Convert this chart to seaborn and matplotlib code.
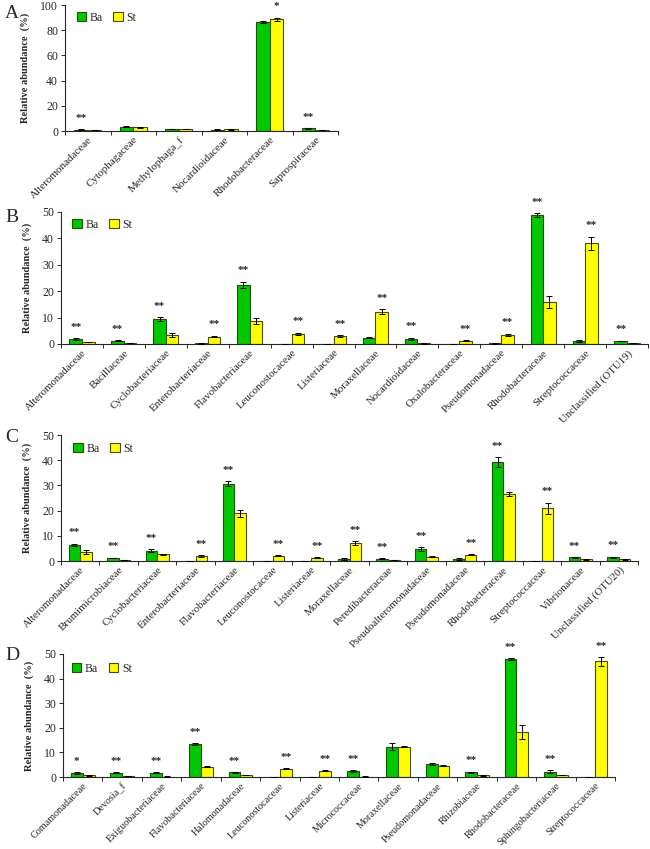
import matplotlib
matplotlib.use("Agg")
import matplotlib.pyplot as plt
from matplotlib.patches import Patch
import seaborn as sns
import pandas as pd
import numpy as np

# ---------------- data ----------------
cats_A = ["Alteromonadaceae", "Cytophagaceae", "Methylophaga_f", "Nocardioidaceae",
          "Rhodobacteraceae", "Saprospiraceae"]
ba_A = [1.0, 3.5, 1.5, 1.0, 86.5, 2.0]
st_A = [0.5, 3.0, 1.5, 1.3, 88.7, 0.5]
ba_err_A = [0.2, 0.3, 0.2, 0.2, 1.0, 0.3]
st_err_A = [0.1, 0.3, 0.2, 0.3, 1.2, 0.1]
sig_A = ["**", "", "", "", "*", "**"]

cats_B = ["Alteromonadaceae", "Bacillaceae", "Cyclobacteriaceae", "Enterobacteriaceae",
          "Flavobacteriaceae", "Leuconostocaceae", "Listeriaceae", "Moraxellaceae",
          "Nocardioidaceae", "Oxalobacteraceae", "Pseudomonadaceae", "Rhodobacteraceae",
          "Streptococcaceae", "Unclassified (OTU19)"]
ba_B = [1.9, 1.25, 9.5, 0.2, 22.4, 0.1, 0.1, 2.4, 2.0, 0.1, 0.2, 48.8, 1.2, 1.1]
st_B = [0.7, 0.3, 3.5, 2.8, 8.8, 3.8, 3.0, 12.3, 0.2, 1.2, 3.5, 15.8, 38.1, 0.3]
ba_err_B = [0.2, 0.15, 0.6, 0.05, 1.1, 0.05, 0.05, 0.3, 0.3, 0.05, 0.05, 0.7, 0.3, 0.15]
st_err_B = [0.1, 0.05, 0.7, 0.3, 1.2, 0.4, 0.3, 0.8, 0.05, 0.15, 0.4, 2.2, 2.5, 0.05]
sig_B = ["**"] * 14

cats_C = ["Alteromonadaceae", "Brumimicrobiaceae", "Cyclobacteriaceae", "Enterobacteriaceae",
          "Flavobacteriaceae", "Leuconostocaceae", "Listeriaceae", "Moraxellaceae",
          "Peredibacteraceae", "Pseudoalteromonadaceae", "Pseudomonadaceae",
          "Rhodobacteraceae", "Streptococcaceae", "Vibrionaceae", "Unclassified (OTU20)"]
ba_C = [6.5, 1.2, 4.1, 0.1, 30.7, 0.1, 0.0, 0.8, 0.9, 4.6, 0.9, 39.3, 0.1, 1.4, 1.4]
st_C = [3.6, 0.4, 2.7, 2.0, 18.9, 2.0, 1.3, 7.1, 0.3, 1.7, 2.4, 26.7, 21.0, 0.6, 0.6]
ba_err_C = [0.4, 0.1, 0.5, 0.05, 1.0, 0.05, 0.0, 0.5, 0.2, 0.8, 0.4, 2.0, 0.05, 0.2, 0.3]
st_err_C = [0.7, 0.05, 0.2, 0.4, 1.5, 0.2, 0.1, 0.8, 0.05, 0.3, 0.2, 0.8, 2.2, 0.1, 0.1]
sig_C = ["**"] * 15

cats_D = ["Comamonadaceae", "Devosia_f", "Exiguobacteriaceae", "Flavobacteriaceae",
          "Halomonadaceae", "Leuconostocaceae", "Listeriaceae", "Micrococcaceae",
          "Moraxellaceae", "Pseudomonadaceae", "Rhizobiaceae", "Rhodobacteraceae",
          "Sphingobacteriaceae", "Streptococcaceae"]
ba_D = [1.6, 1.7, 1.7, 13.5, 1.9, 0.1, 0.0, 2.5, 12.3, 5.3, 1.9, 48.0, 2.2, 0.1]
st_D = [0.7, 0.4, 0.2, 4.2, 0.8, 3.3, 2.5, 0.2, 12.3, 4.6, 0.7, 18.3, 0.9, 47.0]
ba_err_D = [0.5, 0.2, 0.15, 0.3, 0.15, 0.05, 0.0, 0.4, 1.4, 0.4, 0.3, 0.5, 0.5, 0.05]
st_err_D = [0.1, 0.05, 0.05, 0.3, 0.1, 0.2, 0.2, 0.05, 0.3, 0.3, 0.1, 2.7, 0.1, 1.7]
sig_D = ["*", "**", "**", "**", "**", "**", "**", "**", "", "", "**", "**", "**", "**"]

groups = ["Ba", "St"]
colors = {"Ba": "#00C800", "St": "#FFFF00"}
edges = {"Ba": "#1f4f00", "St": "#4a4a10"}

# ---------------- style ----------------
sns.set_style("ticks")
plt.rcParams["font.family"] = ["Liberation Serif", "DejaVu Serif"]
plt.rcParams["axes.linewidth"] = 0.8

W, H = 650, 849
fig = plt.figure(figsize=(W / 100, H / 100), dpi=100)


def px_axes(l, r, t, b):
    return fig.add_axes([l / W, 1 - b / H, (r - l) / W, (b - t) / H])


panels = [
    ("A", cats_A, ba_A, st_A, ba_err_A, st_err_A, sig_A, 100, 20, (65, 338, 5, 131), (5, 14), (82, 20), 8),
    ("B", cats_B, ba_B, st_B, ba_err_B, st_err_B, sig_B, 50, 10, (61, 648, 212, 344), (5, 218), (84, 227), 7.8),
    ("C", cats_C, ba_C, st_C, ba_err_C, st_err_C, sig_C, 50, 10, (61, 638, 435, 561), (5, 437), (85, 451), 7.8),
    ("D", cats_D, ba_D, st_D, ba_err_D, st_err_D, sig_D, 50, 10, (63, 615, 654, 777), (5, 655), (83, 671), 7.3),
]

for (letter, cats, ba, st, ba_err, st_err, sig, ymax, ystep, box, lpos, legpos, xfs) in panels:
    ax = px_axes(*box)
    df = pd.DataFrame({
        "family": cats * 2,
        "group": ["Ba"] * len(cats) + ["St"] * len(cats),
        "value": list(ba) + list(st),
    })
    sns.barplot(data=df, x="family", y="value", hue="group", order=cats,
                hue_order=groups, palette=colors, width=0.6, errorbar=None,
                ax=ax, legend=False, linewidth=0.8, saturation=1)
    errs = {"Ba": ba_err, "St": st_err}
    vals = {"Ba": ba, "St": st}
    tops = {}
    for g, cont in zip(groups, ax.containers):
        xs = []
        for p in cont.patches:
            p.set_edgecolor(edges[g])
            xs.append(p.get_x() + p.get_width() / 2)
        xs = np.array(xs)
        tops[g] = xs
        ax.errorbar(xs, vals[g], yerr=errs[g], fmt="none", ecolor="black",
                    elinewidth=0.7, capsize=2.2, capthick=0.7, zorder=5)
    # significance marks above the taller bar
    for i, s in enumerate(sig):
        if not s:
            continue
        hb = ba[i] + ba_err[i]
        hs = st[i] + st_err[i]
        if hb >= hs:
            x, h = tops["Ba"][i], hb
        else:
            x, h = tops["St"][i], hs
        ax.text(x, h + ymax * 0.05, s, ha="center", va="bottom", fontsize=8,
                fontweight="bold")
    ax.set_ylim(0, ymax)
    ax.set_xlim(-0.5, len(cats) - 0.5)
    ax.set_yticks(np.arange(0, ymax + 1, ystep))
    ax.set_xticks(range(len(cats)))
    ax.set_xticks(np.arange(-0.5, len(cats), 1.0), minor=True)
    ax.set_xticklabels(cats, rotation=45, ha="right", rotation_mode="anchor", fontsize=xfs)
    ax.tick_params(axis="x", which="major", length=0, pad=3)
    ax.tick_params(axis="x", which="minor", length=3, width=0.7, direction="out")
    ax.tick_params(axis="y", labelsize=8.5, length=3, width=0.7, pad=2)
    ax.set_xlabel("")
    ax.set_ylabel("Relative abundance  (%)", fontsize=7.5, fontweight="bold", labelpad=7)
    sns.despine(ax=ax)
    handles = [Patch(facecolor=colors[g], edgecolor=edges[g], linewidth=0.8) for g in groups]
    ax.legend(handles, groups, loc="upper left",
              bbox_to_anchor=((legpos[0] - box[0]) / (box[1] - box[0]) - 0.02,
                              1 - (legpos[1] - box[2] - 8) / (box[3] - box[2])),
              ncol=2, frameon=False, fontsize=8.5, handlelength=0.8, handleheight=0.8,
              handletextpad=0.3, columnspacing=0.9, borderpad=0, borderaxespad=0)
    fig.text(lpos[0] / W, 1 - lpos[1] / H, letter, fontsize=14, ha="left", va="center")

fig.savefig("out.png", dpi=100)
